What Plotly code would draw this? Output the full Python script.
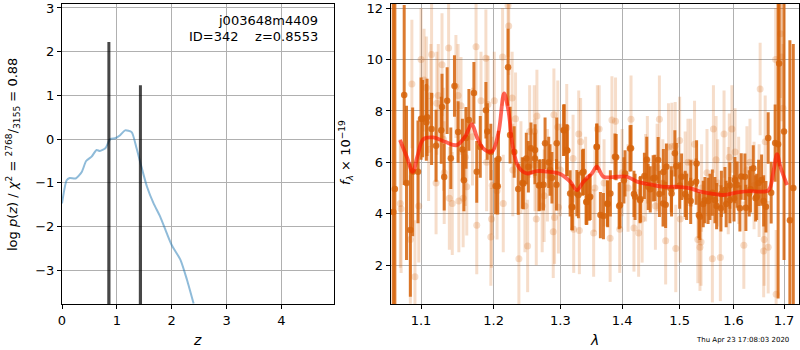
import plotly.graph_objects as go
import numpy as np

# ---------------- Left panel: log p(z) ----------------
pz_z = [0.0, 0.085, 0.14, 0.25, 0.36, 0.44, 0.54, 0.63, 0.69, 0.79, 0.88, 0.97, 1.06,
        1.15, 1.27, 1.36, 1.45, 1.55, 1.67, 1.79, 1.91, 2.0, 2.16, 2.28, 2.40]
pz_logp = [-1.47, -0.94, -0.89, -0.9, -0.75, -0.5, -0.4, -0.25, -0.27, -0.21, 0.0, 0.02, 0.09,
           0.2, 0.16, -0.21, -0.64, -1.09, -1.47, -1.77, -2.15, -2.42, -2.76, -3.22, -3.76]
spike_z = [0.855, 1.43]
spike_logp = [2.22, 1.23]
spike_floor = -20.0

# ---------------- Right panel: spectrum ----------------
dark_wave = [1.064, 1.066, 1.078, 1.081, 1.086, 1.089, 1.096, 1.100, 1.102, 1.107, 1.108, 1.114,
             1.120, 1.127, 1.128, 1.131, 1.135, 1.140, 1.145, 1.150, 1.156, 1.158, 1.161, 1.165,
             1.172, 1.176, 1.181, 1.189, 1.191, 1.196, 1.203, 1.206, 1.207, 1.221, 1.224, 1.230,
             1.236, 1.242, 1.248, 1.255, 1.261, 1.267, 1.274, 1.282, 1.287, 1.294, 1.305, 1.311,
             1.318, 1.326, 1.335, 1.341, 1.346, 1.358, 1.364, 1.376, 1.390, 1.395, 1.403, 1.415,
             1.420, 1.431, 1.442, 1.448, 1.456, 1.464, 1.471, 1.475, 1.485, 1.494, 1.500, 1.510,
             1.520, 1.530, 1.535, 1.543, 1.552, 1.560, 1.568, 1.577, 1.586, 1.593, 1.601, 1.607,
             1.615, 1.624, 1.633, 1.643, 1.649, 1.659, 1.668, 1.674, 1.682, 1.688, 1.690, 1.700,
             1.712, 1.719]
dark_flux = [4.07, 4.96, 8.62, 5.2, 3.37, 5.63, 5.63, 7.7, 7.7, 7.56, 7.75, 7.3,
             6.65, 7.25, 8.15, 5.43, 8.4, 6.16, 8.97, 7.18, 6.5, 5.3, 6.95, 7.65,
             8.7, 5.63, 6.6, 8.03, 7.2, 6.4, 5.08, 5.07, 6.13, 9.7, 7.06, 6.4,
             4.96, 5.2, 6.15, 6.55, 6.15, 5.1, 5.13, 6.0, 5.4, 5.13, 7.25, 6.46,
             4.27, 4.8, 5.6, 4.46, 4.63, 6.6, 3.95, 4.38, 6.2, 4.3, 5.3, 6.55,
             4.77, 4.57, 6.1, 4.95, 5.4, 4.77, 5.62, 4.35, 4.95, 5.85, 5.1, 4.77,
             4.5, 5.25, 3.95, 4.38, 4.5, 4.82, 4.3, 4.77, 4.38, 5.1, 4.6, 5.13,
             5.45, 4.23, 4.95, 4.6, 5.2, 4.5, 6.95, 4.82, 6.75, 6.7, 9.85, 7.2,
             3.75, 5.0]
dark_err = [12.0, 9.0, 3.5, 3.0, 2.6, 2.5, 2.0, 1.6, 1.5, 1.5, 1.5, 1.4,
            1.4, 1.3, 1.3, 1.3, 1.3, 1.2, 1.2, 1.2, 1.2, 1.2, 1.2, 1.2,
            1.2, 1.2, 1.2, 1.1, 1.1, 1.1, 1.1, 1.1, 1.1, 1.5, 1.1, 1.0,
            1.0, 1.0, 1.0, 1.0, 1.0, 1.0, 1.0, 1.0, 1.0, 1.0, 1.0, 1.0,
            0.9, 0.9, 0.9, 0.9, 0.9, 0.9, 0.9, 0.9, 0.9, 0.9, 0.9, 0.9,
            0.9, 0.9, 0.9, 0.9, 0.9, 0.9, 0.9, 0.9, 0.9, 0.9, 0.9, 0.9,
            0.9, 0.9, 0.9, 0.9, 0.9, 0.9, 0.9, 0.9, 0.9, 0.9, 0.9, 0.9,
            0.9, 0.9, 0.9, 0.9, 0.9, 1.0, 1.0, 1.2, 1.5, 6.0, 4.0, 5.0,
            7.0, 5.6]

# additional dark points read in the dense middle part
dark2_wave = [1.2437, 1.2511, 1.2612, 1.2688, 1.2764, 1.2841, 1.2944, 1.3062, 1.3098, 1.3154,
              1.3189, 1.3285, 1.3366, 1.3420, 1.3474, 1.3582, 1.3690, 1.3755, 1.3804, 1.3880,
              1.3965, 1.4049, 1.4133, 1.4219, 1.4304, 1.4379, 1.4445, 1.4531, 1.4618, 1.4706,
              1.4763, 1.4855, 1.4914, 1.5035, 1.5125, 1.5203, 1.5308, 1.5368, 1.5461, 1.5555,
              1.5648, 1.5761, 1.5837, 1.5932, 1.6028, 1.6124, 1.6221, 1.6305, 1.6384, 1.6451,
              1.6549, 1.6635]
dark2_flux = [5.18, 5.83, 6.48, 5.12, 6.74, 5.7, 6.74, 7.26, 6.48, 4.79,
              4.25, 4.73, 5.63, 4.47, 4.66, 6.61, 3.91, 4.4, 4.79, 6.22,
              4.34, 5.57, 6.54, 4.66, 4.53, 5.47, 5.05, 5.38, 6.09, 4.4,
              5.83, 4.79, 6.35, 5.44, 4.66, 5.18, 5.96, 3.88, 4.53, 4.66,
              4.53, 4.21, 4.92, 4.53, 5.31, 4.21, 5.44, 4.79, 5.77, 4.66,
              5.31, 4.27]
dark2_err = [1.0, 1.0, 1.0, 1.0, 1.0, 1.0, 1.0, 1.0, 1.0, 0.9,
             0.9, 0.9, 0.9, 0.9, 0.9, 0.9, 0.9, 0.9, 0.9, 0.9,
             0.9, 0.9, 0.9, 0.9, 0.9, 0.9, 0.9, 0.9, 0.9, 0.9,
             0.9, 0.9, 0.9, 0.9, 0.9, 0.9, 0.9, 0.9, 0.9, 0.9,
             0.9, 0.9, 0.9, 0.9, 0.9, 0.9, 0.9, 0.9, 0.9, 0.9,
             1.0, 1.0]

light_wave = [1.073, 1.074, 1.086, 1.088, 1.092, 1.097, 1.100, 1.104, 1.107, 1.110, 1.113, 1.114,
              1.120, 1.121, 1.123, 1.128, 1.130, 1.131, 1.137, 1.138, 1.142, 1.147, 1.150, 1.151,
              1.154, 1.157, 1.160, 1.162, 1.170, 1.175, 1.176, 1.182, 1.189, 1.190, 1.192, 1.196,
              1.197, 1.198, 1.201, 1.205, 1.213, 1.214, 1.221, 1.222, 1.227, 1.228, 1.232, 1.237,
              1.240, 1.246, 1.250, 1.253, 1.260, 1.261, 1.263, 1.264, 1.272, 1.275, 1.280, 1.289,
              1.290, 1.291, 1.296, 1.297, 1.300, 1.310, 1.320, 1.321, 1.329, 1.330, 1.332, 1.340,
              1.353, 1.355, 1.359, 1.362, 1.370, 1.380, 1.383, 1.389, 1.396, 1.400, 1.410, 1.415,
              1.420, 1.428, 1.434, 1.440, 1.443, 1.457, 1.460, 1.464, 1.470, 1.475, 1.480, 1.486,
              1.492, 1.493, 1.500, 1.501, 1.510, 1.515, 1.520, 1.527, 1.533, 1.537, 1.539, 1.540,
              1.550, 1.560, 1.562, 1.567, 1.570, 1.575, 1.582, 1.590, 1.592, 1.597, 1.603, 1.610,
              1.620, 1.626, 1.632, 1.640, 1.650, 1.652, 1.659, 1.660, 1.662, 1.668, 1.683, 1.684,
              1.693, 1.695, 1.698]
light_flux = [4.4, 4.2, 3.0, 9.05, 1.55, 4.3, 10.0, 9.2, 8.9, 6.5, 8.6, 10.2,
              5.2, 8.3, 8.6, 9.8, 6.9, 5.6, 10.45, 4.6, 4.4, 8.95, 8.6, 4.5,
              8.2, 4.6, 6.2, 5.05, 7.0, 10.5, 3.55, 8.4, 10.05, 6.0, 8.25, 3.1,
              3.8, 5.1, 8.4, 4.9, 10.1, 4.4, 12.1, 11.3, 8.5, 5.7, 7.7, 2.25,
              5.8, 4.3, 2.75, 7.2, 7.2, 5.9, 3.8, 7.8, 4.3, 4.7, 5.5, 3.3,
              7.85, 3.85, 7.38, 4.25, 5.7, 7.35, 6.15, 3.4, 7.1, 3.35, 6.8, 5.3,
              3.25, 5.0, 7.3, 7.3, 5.2, 3.05, 7.65, 7.6, 3.4, 5.6, 5.0, 7.68,
              3.45, 3.25, 3.8, 5.4, 6.1, 4.3, 5.8, 7.68, 5.2, 2.95, 6.6, 6.62,
              6.65, 2.65, 6.85, 3.8, 5.5, 6.0, 6.0, 6.7, 3.0, 2.7, 2.9, 5.0,
              5.6, 2.25, 7.3, 6.1, 5.2, 2.3, 7.1, 4.9, 6.2, 7.3, 6.4, 5.3,
              2.78, 5.7, 6.0, 5.1, 4.9, 8.85, 2.55, 3.0, 6.8, 2.7, 10.0, 0.87,
              11.0, 10.1, 8.1]
light_err = [2.5, 2.5, 2.5, 2.5, 2.2, 2.2, 2.0, 2.0, 2.0, 2.0, 2.0, 2.0,
             2.0, 2.0, 2.0, 2.0, 2.0, 2.0, 2.0, 2.0, 2.0, 2.0, 2.0, 2.0,
             1.9, 1.9, 1.9, 1.9, 1.9, 1.9, 1.9, 1.9, 1.9, 1.9, 1.9, 1.9,
             1.9, 1.9, 1.9, 1.9, 1.9, 1.9, 2.0, 1.9, 1.8, 1.8, 1.8, 1.8,
             1.8, 1.8, 1.8, 1.8, 1.8, 1.8, 1.8, 1.8, 1.8, 1.8, 1.8, 1.8,
             1.8, 1.8, 1.8, 1.8, 1.8, 1.7, 1.7, 1.7, 1.7, 1.7, 1.7, 1.7,
             1.7, 1.7, 1.7, 1.7, 1.7, 1.7, 1.7, 1.7, 1.7, 1.7, 1.7, 1.7,
             1.7, 1.7, 1.7, 1.7, 1.7, 1.7, 1.7, 1.7, 1.7, 1.7, 1.7, 1.7,
             1.7, 1.7, 1.7, 1.7, 1.7, 1.7, 1.7, 1.7, 1.7, 1.7, 1.7, 1.7,
             1.7, 1.7, 1.7, 1.7, 1.7, 1.7, 1.7, 1.7, 1.7, 1.7, 1.7, 1.7,
             1.7, 1.7, 1.7, 1.7, 1.8, 1.8, 1.8, 1.8, 1.8, 1.8, 2.0, 2.5,
             2.5, 2.5, 2.5]

model_wave = [1.0726, 1.0813, 1.0891, 1.0951, 1.1030, 1.1163, 1.1321, 1.1481, 1.1596, 1.1690,
              1.1760, 1.1853, 1.1973, 1.2069, 1.2152, 1.2214, 1.2280, 1.2363, 1.2488, 1.2639,
              1.2842, 1.2997, 1.3154, 1.3260, 1.3366, 1.3501, 1.3582, 1.3690, 1.3913, 1.4081,
              1.4251, 1.4480, 1.4715, 1.4953, 1.5194, 1.5377, 1.5562, 1.5813, 1.6069, 1.6327,
              1.6524, 1.6690, 1.6790, 1.6859, 1.6926, 1.7062]
model_flux = [6.87, 6.22, 5.63, 6.22, 6.9, 6.97, 6.8, 6.67, 7.0, 7.49,
              7.0, 6.54, 6.41, 7.13, 8.68, 8.03, 6.61, 5.83, 5.57, 5.66,
              5.63, 5.55, 5.25, 4.92, 5.25, 5.57, 5.83, 5.44, 5.44, 5.44,
              5.25, 5.14, 5.05, 5.05, 4.99, 4.86, 4.79, 4.73, 4.83, 4.88,
              4.86, 4.92, 5.7, 6.32, 5.83, 5.12]

lam_ticks = [1.1, 1.2, 1.3, 1.4, 1.5, 1.6, 1.7]
flux_ticks = [2, 4, 6, 8, 10, 12]
z_ticks = [0, 1, 2, 3, 4]
logp_ticks = [-3, -2, -1, 0, 1, 2, 3]

FONT = "DejaVu Sans, Liberation Sans, sans-serif"
ORANGE = "214,100,12"

fig = go.Figure()

# left panel
fig.add_trace(go.Scatter(x=pz_z, y=pz_logp, mode="lines", line=dict(color="rgba(31,119,180,0.5)", width=2),
                         line_shape="spline", line_smoothing=0.6, xaxis="x", yaxis="y", hoverinfo="skip"))
sx, sy = [], []
for zz, lp in zip(spike_z, spike_logp):
    sx += [zz - 0.008, zz, zz + 0.008, None]
    sy += [spike_floor, lp, spike_floor, None]
fig.add_trace(go.Scatter(x=sx, y=sy, mode="lines", line=dict(color="rgba(0,0,0,0.72)", width=3),
                         xaxis="x", yaxis="y", hoverinfo="skip"))

# right panel
fig.add_trace(go.Scatter(x=light_wave, y=light_flux, mode="markers",
                         marker=dict(color=f"rgba({ORANGE},0.22)", size=7, line=dict(width=0)),
                         error_y=dict(type="data", array=light_err, color=f"rgba({ORANGE},0.22)",
                                      thickness=3, width=0),
                         xaxis="x2", yaxis="y2", hoverinfo="skip"))
all_dark_wave = dark_wave + dark2_wave
all_dark_flux = dark_flux + dark2_flux
all_dark_err = dark_err + dark2_err
fig.add_trace(go.Scatter(x=all_dark_wave, y=all_dark_flux, mode="markers",
                         marker=dict(color=f"rgba({ORANGE},0.85)", size=6.5, line=dict(width=0)),
                         error_y=dict(type="data", array=all_dark_err, color=f"rgba({ORANGE},0.85)",
                                      thickness=3, width=0),
                         xaxis="x2", yaxis="y2", hoverinfo="skip"))
fig.add_trace(go.Scatter(x=model_wave, y=model_flux, mode="lines", line_shape="spline",
                         line=dict(color="rgba(255,20,0,0.65)", width=3.8),
                         xaxis="x2", yaxis="y2", hoverinfo="skip"))

axis_common = dict(showline=True, linecolor="black", linewidth=1, mirror=True,
                   ticks="outside", ticklen=4, tickcolor="black", automargin=False,
                   showgrid=True, gridcolor="#b0b0b0", gridwidth=1, zeroline=False,
                   tickfont=dict(family=FONT, size=13, color="black"))

ytop = 1 - 4 / 350
ybot = 1 - 304 / 350

fig.update_layout(
    width=800, height=350,
    margin=dict(l=0, r=0, t=0, b=0, autoexpand=False),
    paper_bgcolor="white", plot_bgcolor="white",
    showlegend=False,
    font=dict(family=FONT, size=13, color="black"),
    xaxis=dict(domain=[62 / 800, 334 / 800], range=[0, 4.96], tickvals=z_ticks, anchor="y", **axis_common),
    yaxis=dict(domain=[ybot, ytop], range=[-3.77, 3.09], tickvals=logp_ticks,
               ticktext=[("\u2212" + str(-v)) if v < 0 else str(v) for v in logp_ticks], anchor="x", **axis_common),
    xaxis2=dict(domain=[390.7 / 800, 799 / 800], type="log",
                range=[np.log10(1.0607), np.log10(1.7308)],
                tickvals=lam_ticks, ticktext=[f"{v:.1f}" for v in lam_ticks], anchor="y2", **axis_common),
    yaxis2=dict(domain=[ybot, ytop], range=[0.49, 12.16], tickvals=flux_ticks, anchor="x2", **axis_common),
)

annotations = [
    dict(text="j003648m4409", x=320, y=350 - 20, showarrow=False,
         xanchor="right", yanchor="middle", font=dict(size=13)),
    dict(text="ID=342    z=0.8553", x=320, y=350 - 36, showarrow=False,
         xanchor="right", yanchor="middle", font=dict(size=13)),
    dict(text="<i>z</i>", x=197, y=350 - 340, showarrow=False, xanchor="center", yanchor="middle",
         font=dict(size=14)),
    dict(text="<i>λ</i>", x=594, y=350 - 340, showarrow=False, xanchor="center", yanchor="middle",
         font=dict(size=14)),
    dict(text="log <i>p</i>(<i>z</i>) / <i>χ</i><sup>2</sup> = <sup>2768</sup>/<sub>3155</sub> = 0.88",
         x=13, y=350 - 155, showarrow=False, textangle=-90, xanchor="center", yanchor="middle",
         font=dict(size=13)),
    dict(text="<i>f</i><sub><i>λ</i></sub> × 10<sup>−19</sup>", x=346, y=350 - 153, showarrow=False,
         textangle=-90, xanchor="center", yanchor="middle", font=dict(size=13)),
    dict(text="Thu Apr 23 17:08:03 2020", x=742, y=350 - 340, showarrow=False, xanchor="center",
         yanchor="middle", font=dict(size=7)),
]
for a in annotations:
    a["x"] = a["x"] / 800
    a["y"] = a["y"] / 350
    a["xref"] = "paper"
    a["yref"] = "paper"
fig.update_layout(annotations=annotations)

fig.write_html("out.html", config={"displayModeBar": False},
               post_script="document.body.style.margin='0';document.body.style.padding='0';"
                           "document.documentElement.style.margin='0';document.body.style.overflow='hidden';")
